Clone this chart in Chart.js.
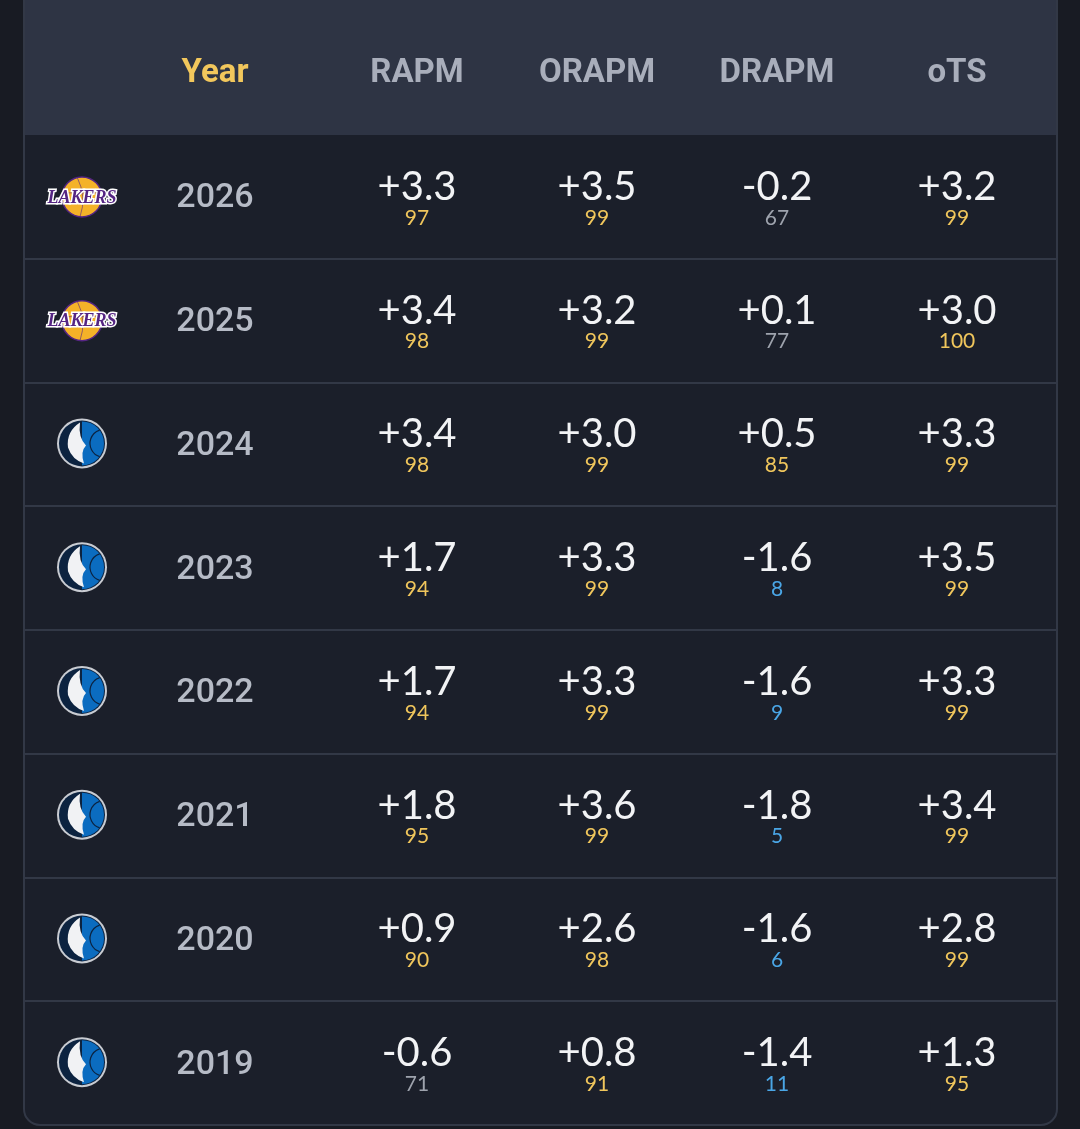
<!DOCTYPE html>
<html>
<head>
<meta charset="utf-8">
<script src="https://cdn.jsdelivr.net/npm/chart.js@4.4.1/dist/chart.umd.min.js"></script>
<style>
  html, body { margin: 0; padding: 0; background: #181b23; }
  #wrap { width: 1080px; height: 1129px; position: relative; }
</style>
</head>
<body>
<div id="wrap"><canvas id="statsTable"></canvas></div>
<script>
const years = ['2026', '2025', '2024', '2023', '2022', '2021', '2020', '2019'];
const teams = ['LAL', 'LAL', 'DAL', 'DAL', 'DAL', 'DAL', 'DAL', 'DAL'];
const columns = ['RAPM', 'ORAPM', 'DRAPM', 'oTS'];
const rapm = [3.3, 3.4, 3.4, 1.7, 1.7, 1.8, 0.9, -0.6];
const rapmPct = [97, 98, 98, 94, 94, 95, 90, 71];
const orapm = [3.5, 3.2, 3.0, 3.3, 3.3, 3.6, 2.6, 0.8];
const orapmPct = [99, 99, 99, 99, 99, 99, 98, 91];
const drapm = [-0.2, 0.1, 0.5, -1.6, -1.6, -1.8, -1.6, -1.4];
const drapmPct = [67, 77, 85, 8, 9, 5, 6, 11];
const ots = [3.2, 3.0, 3.3, 3.5, 3.3, 3.4, 2.8, 1.3];
const otsPct = [99, 100, 99, 99, 99, 99, 99, 95];

const values = [rapm, orapm, drapm, ots];
const pcts = [rapmPct, orapmPct, drapmPct, otsPct];

const colors = {
    page: '#181b23',
    header: '#2e3444',
    body: '#1b1f2a',
    line: '#323846',
    headText: '#a9aebb',
    yearHead: '#f2c75c',
    year: '#b6bbc6',
    value: '#f2f3f5',
    high: '#f0c65c',
    mid: '#9ea3ad',
    low: '#4aa6e6'
};

function fmt(v) {
    return (v < 0 ? '-' : '+') + Math.abs(v).toFixed(1);
}
function pctColor(p) {
    if (p >= 80) return colors.high;
    if (p <= 20) return colors.low;
    return colors.mid;
}

function drawLakers(ctx, x, y) {
    ctx.save();
    ctx.beginPath();
    ctx.arc(x, y, 20, 0, Math.PI * 2);
    ctx.fillStyle = '#f4b228';
    ctx.fill();
    ctx.lineWidth = 1.5;
    ctx.strokeStyle = '#552583';
    ctx.stroke();
    ctx.beginPath();
    ctx.moveTo(x - 5, y - 20); ctx.quadraticCurveTo(x + 5, y, x - 2, y + 20);
    ctx.moveTo(x - 20, y - 4); ctx.lineTo(x + 20, y - 4);
    ctx.strokeStyle = 'rgba(85,37,131,0.6)';
    ctx.lineWidth = 1;
    ctx.stroke();
    ctx.font = 'italic bold 18px "Liberation Serif"';
    ctx.textAlign = 'center';
    ctx.textBaseline = 'middle';
    ctx.lineWidth = 3;
    ctx.strokeStyle = '#ffffff';
    ctx.strokeText('LAKERS', x, y + 1);
    ctx.fillStyle = '#552583';
    ctx.fillText('LAKERS', x, y + 1);
    ctx.restore();
}

function drawMavs(ctx, x, y) {
    ctx.save();
    ctx.beginPath();
    ctx.arc(x, y, 25, 0, Math.PI * 2);
    ctx.fillStyle = '#c9ccd2';
    ctx.fill();
    ctx.beginPath();
    ctx.arc(x, y, 23, 0, Math.PI * 2);
    ctx.fillStyle = '#0c2340';
    ctx.fill();
    ctx.beginPath();
    ctx.arc(x, y, 22, -Math.PI / 2, Math.PI / 2);
    ctx.closePath();
    ctx.fillStyle = '#0b6cc0';
    ctx.fill();
    ctx.strokeStyle = '#0c2340';
    ctx.lineWidth = 1.2;
    ctx.beginPath();
    ctx.arc(x + 22, y, 14, Math.PI * 0.6, Math.PI * 1.4);
    ctx.stroke();
    ctx.beginPath();
    ctx.moveTo(x - 2, y - 21);
    ctx.quadraticCurveTo(x - 16, y - 12, x - 14, y + 4);
    ctx.quadraticCurveTo(x - 10, y + 16, x + 2, y + 20);
    ctx.quadraticCurveTo(x - 2, y + 8, x + 4, y + 2);
    ctx.quadraticCurveTo(x - 4, y - 6, x - 2, y - 21);
    ctx.fillStyle = '#f1f2f4';
    ctx.fill();
    ctx.restore();
}

const tablePlugin = {
    id: 'tablePlugin',
    beforeDraw(chart) {
        const ctx = chart.ctx;
        const area = chart.chartArea;
        const yScale = chart.scales.y;
        const xScale = chart.scales.x;
        const left = 24, right = 1057, bottom = 1125;
        ctx.save();
        ctx.fillStyle = colors.page;
        ctx.fillRect(0, 0, chart.width, chart.height);
        // card body
        ctx.beginPath();
        ctx.roundRect(left, -30, right - left, bottom + 30, 16);
        ctx.fillStyle = colors.body;
        ctx.fill();
        ctx.lineWidth = 2;
        ctx.strokeStyle = colors.line;
        ctx.stroke();
        // header band
        ctx.fillStyle = colors.header;
        ctx.fillRect(left + 1, 0, right - left - 2, area.top);
        // row separators
        const step = yScale.getPixelForValue(1) - yScale.getPixelForValue(0);
        ctx.strokeStyle = colors.line;
        ctx.lineWidth = 2;
        for (let i = 0; i < years.length - 1; i++) {
            const yy = Math.round(yScale.getPixelForValue(i) + step / 2);
            ctx.beginPath();
            ctx.moveTo(left, yy);
            ctx.lineTo(right, yy);
            ctx.stroke();
        }
        // header labels
        const hy = area.top / 2 + 4;
        ctx.font = 'bold 33px Roboto';
        ctx.textAlign = 'center';
        ctx.textBaseline = 'middle';
        ctx.fillStyle = colors.yearHead;
        ctx.fillText('Year', 215, hy + 2);
        ctx.fillStyle = colors.headText;
        columns.forEach((c, i) => {
            ctx.fillText(c, xScale.getPixelForValue(i), hy + 2);
        });
        ctx.restore();
    },
    afterDatasetsDraw(chart) {
        const ctx = chart.ctx;
        const yScale = chart.scales.y;
        ctx.save();
        ctx.textAlign = 'center';
        ctx.textBaseline = 'middle';
        years.forEach((yr, i) => {
            const yy = yScale.getPixelForValue(i);
            if (teams[i] === 'LAL') drawLakers(ctx, 82, yy);
            else drawMavs(ctx, 82, yy - 1);
            ctx.font = '500 34px Roboto';
            ctx.fillStyle = colors.year;
            ctx.fillText(yr, 215, yy + 2);
        });
        chart.data.datasets.forEach((ds, di) => {
            const meta = chart.getDatasetMeta(di);
            meta.data.forEach((el, i) => {
                ctx.font = '40px Lato';
                ctx.fillStyle = colors.value;
                ctx.fillText(fmt(values[di][i]), el.x, el.y - 10);
                ctx.font = '21px Lato';
                ctx.fillStyle = pctColor(pcts[di][i]);
                ctx.fillText(String(pcts[di][i]), el.x, el.y + 21);
            });
        });
        ctx.restore();
    }
};

function build() {
    const ctx = document.getElementById('statsTable').getContext('2d');
    new Chart(ctx, {
        type: 'scatter',
        data: {
            datasets: columns.map((c, ci) => ({
                label: c,
                data: years.map(y => ({ x: c, y: y })),
                pointRadius: 0,
                pointHoverRadius: 0
            }))
        },
        options: {
            responsive: true,
            maintainAspectRatio: false,
            animation: false,
            layout: {
                padding: { left: 327, right: 33, top: 135, bottom: 4 }
            },
            scales: {
                x: { type: 'category', labels: columns, offset: true, display: false },
                y: { type: 'category', labels: years, offset: true, display: false }
            },
            plugins: {
                legend: { display: false },
                tooltip: { enabled: false }
            }
        },
        plugins: [tablePlugin]
    });
}

if (document.fonts && document.fonts.load) {
    Promise.all([
        document.fonts.load('bold 33px Roboto'),
        document.fonts.load('500 34px Roboto'),
        document.fonts.load('40px Lato')
    ]).then(build, build);
} else {
    build();
}
</script>
</body>
</html>
